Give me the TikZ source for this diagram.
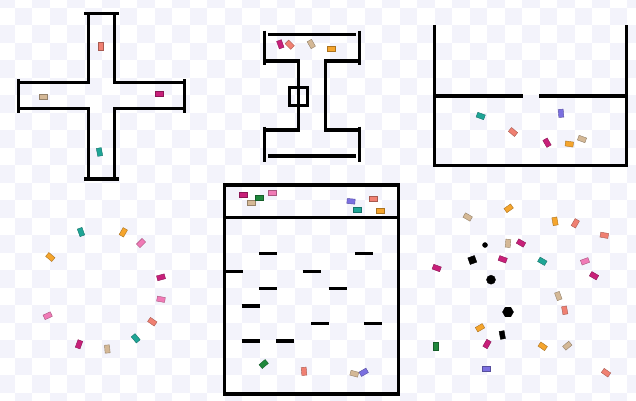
\documentclass[tikz,border=0pt]{standalone}
\usepackage{xcolor}
\usepackage{tikz}
\usetikzlibrary{backgrounds}
\usetikzlibrary{shapes,shapes.geometric}
\pgfdeclarelayer{edgelayer}
\pgfdeclarelayer{nodelayer}
\pgfsetlayers{background,edgelayer,nodelayer,main}
\definecolor{mgc}{RGB}{200,32,122}
\definecolor{snc}{RGB}{240,128,114}
\definecolor{tnc}{RGB}{212,184,150}
\definecolor{tlc}{RGB}{30,165,150}
\definecolor{ogc}{RGB}{245,165,45}
\definecolor{pkc}{RGB}{240,122,182}
\definecolor{puc}{RGB}{123,111,224}
\definecolor{dgc}{RGB}{30,135,60}
\tikzstyle{none}=[inner sep=0mm]
\tikzstyle{wall}=[line width=3.2pt,draw=black]
\tikzstyle{chk}=[fill={rgb,255:red,243;green,243;blue,251}]
\tikzstyle{car}=[shape=rectangle,inner sep=0pt,minimum width=8pt,minimum height=5pt,line width=0.4pt]
\tikzstyle{mg}=[car,fill=mgc,draw=mgc!70!black]
\tikzstyle{sn}=[car,fill=snc,draw=snc!70!black]
\tikzstyle{tn}=[car,fill=tnc,draw=tnc!70!black]
\tikzstyle{tl}=[car,fill=tlc,draw=tlc!70!black]
\tikzstyle{og}=[car,fill=ogc,draw=ogc!70!black]
\tikzstyle{pk}=[car,fill=pkc,draw=pkc!70!black]
\tikzstyle{pu}=[car,fill=puc,draw=puc!70!black]
\tikzstyle{dg}=[car,fill=dgc,draw=dgc!70!black]
\tikzstyle{blk}=[inner sep=0pt,fill=black,draw=black]

\begin{document}
\begin{tikzpicture}[x=1pt,y=-1pt]
	\useasboundingbox (0,0) rectangle (636,400);
	\begin{pgfonlayer}{background}
		\fill[white] (0,0) rectangle (636,400);
		\foreach \i in {0,...,18}
			\foreach \j in {0,...,11}
			{
				\fill[style=chk] (-3+35*\i,-10+35*\j) rectangle ++(17.5,17.5);
				\fill[style=chk] (14.5+35*\i,7.5+35*\j) rectangle ++(17.5,17.5);
			}
	\end{pgfonlayer}
	\begin{pgfonlayer}{edgelayer}
		% cross
		\draw[wall] (84,13.3) -- (119,13.3);
		\draw[wall] (88.3,13.3) -- (88.3,82.3) -- (18.3,82.3);
		\draw[wall] (114.3,13.3) -- (114.3,82.3) -- (184.3,82.3);
		\draw[wall] (18.3,79) -- (18.3,113);
		\draw[wall] (18.3,108.3) -- (88.3,108.3) -- (88.3,179);
		\draw[wall] (184.3,108.3) -- (114.3,108.3) -- (114.3,179);
		\draw[wall] (184.3,79) -- (184.3,113);
		\draw[wall] (84,179) -- (119,179);
		% beam
		\draw[wall] (264.3,30.7) -- (264.3,65);
		\draw[wall] (359.7,30.7) -- (359.7,65);
		\draw[wall] (268,34.3) -- (356,34.3);
		\draw[wall] (264.3,61) -- (298.7,61) -- (298.7,130) -- (264.3,130);
		\draw[wall] (359.7,61) -- (325.3,61) -- (325.3,130) -- (359.7,130);
		\draw[wall] (264.3,126.7) -- (264.3,161.7);
		\draw[wall] (359.7,126.7) -- (359.7,161.7);
		\draw[wall] (268,156) -- (356,156);
		\draw[wall,line width=2.8pt] (289.7,87.3) rectangle (307.7,105.3);
		% cup
		\draw[wall] (434.7,25) -- (434.7,165.7) -- (626.7,165.7) -- (626.7,25);
		\draw[wall] (434.7,96) -- (522.7,96);
		\draw[wall] (539.3,96) -- (626.7,96);
		% box
		\draw[wall,line width=3.5pt] (224.7,185) rectangle (398.7,394);
		\draw[wall] (224.7,217.7) -- (398.7,217.7);
		\foreach \x/\y in {259.3/253.7,355.3/253.7,224.7/271.3,302.7/271.3,
			259.3/288.7,328.7/288.7,241.7/306,311.3/323.7,364/323.7,
			241.7/341,276.3/341}
			\draw[wall] (\x,\y) -- ++(18,0);
	\end{pgfonlayer}
	\begin{pgfonlayer}{nodelayer}
		% cross
		\node [style=sn,rotate=90] (sn1) at (101,46) {};
		\node [style=tn] (tn1) at (43.5,97) {};
		\node [style=mg] (mg1) at (159.5,94) {};
		\node [style=tl,rotate=100] (tl1) at (99.5,152) {};
		% beam
		\node [style=mg,rotate=110] (mg2) at (280.3,44.3) {};
		\node [style=sn,rotate=-45] (sn2) at (289.7,44.7) {};
		\node [style=tn,rotate=120] (tn2) at (311.3,44) {};
		\node [style=og] (og1) at (331,48.3) {};
		% cup
		\node [style=tl,rotate=-20] (tl2) at (480.7,116) {};
		\node [style=sn,rotate=-40] (sn3) at (513,132) {};
		\node [style=pu,rotate=95] (pu1) at (561,113.3) {};
		\node [style=mg,rotate=-60] (mg3) at (547,142.7) {};
		\node [style=og,rotate=-8] (og2) at (569.3,144) {};
		\node [style=tn,rotate=-20] (tn3) at (582,139) {};
		% ring
		\node [style=tl,rotate=110] (tl3) at (81,232) {};
		\node [style=og,rotate=60] (og3) at (123.3,232.3) {};
		\node [style=pk,rotate=45] (pk1) at (141,243) {};
		\node [style=og,rotate=-40] (og4) at (50.3,257) {};
		\node [style=mg,rotate=15] (mg4) at (161,277.3) {};
		\node [style=pk,rotate=-10] (pk2) at (161,299.3) {};
		\node [style=pk,rotate=25] (pk3) at (47.7,315.7) {};
		\node [style=sn,rotate=-35] (sn4) at (152.3,321.7) {};
		\node [style=tl,rotate=-50] (tl4) at (135.7,338.3) {};
		\node [style=mg,rotate=70] (mg5) at (79,344.3) {};
		\node [style=tn,rotate=95] (tn4) at (107.3,349) {};
		% box
		\node [style=mg] (mg6) at (243,194.3) {};
		\node [style=tn] (tn5) at (251,202.3) {};
		\node [style=dg] (dg1) at (258.7,197.7) {};
		\node [style=pk] (pk4) at (271.7,193) {};
		\node [style=pu,rotate=-5] (pu2) at (351,201.3) {};
		\node [style=sn] (sn5) at (373,198.7) {};
		\node [style=tl] (tl5) at (357.3,209.3) {};
		\node [style=og] (og5) at (380.3,210.7) {};
		\node [style=dg,rotate=40] (dg2) at (263.7,364) {};
		\node [style=sn,rotate=95] (sn6) at (304,371.3) {};
		\node [style=tn,rotate=-15] (tn6) at (354.3,373.7) {};
		\node [style=pu,rotate=30] (pu3) at (363.7,372.3) {};
		% field
		\node [style=tn,rotate=-30] (tn7) at (467.7,217) {};
		\node [style=og,rotate=35] (og6) at (508.7,208.3) {};
		\node [style=og,rotate=100] (og7) at (555,221.3) {};
		\node [style=sn,rotate=60] (sn7) at (575.3,223.3) {};
		\node [style=sn,rotate=-10] (sn8) at (604.3,235.3) {};
		\node [style=tn,rotate=85] (tn8) at (508,243.3) {};
		\node [style=mg,rotate=-30] (mg7) at (521,243) {};
		\node [style=mg,rotate=-20] (mg8) at (502.7,259.3) {};
		\node [style=tl,rotate=-30] (tl6) at (542.3,261.3) {};
		\node [style=pk,rotate=20] (pk5) at (585,261.3) {};
		\node [style=mg,rotate=-20] (mg9) at (436.7,268) {};
		\node [style=mg,rotate=-30] (mg10) at (594,275.7) {};
		\node [style=tn,rotate=110] (tn9) at (558.3,296) {};
		\node [style=sn,rotate=100] (sn9) at (564.7,310.3) {};
		\node [style=og,rotate=30] (og8) at (480,327.7) {};
		\node [style=dg,rotate=90] (dg3) at (436,345.7) {};
		\node [style=mg,rotate=60] (mg11) at (487,344) {};
		\node [style=og,rotate=-35] (og9) at (542.7,346.3) {};
		\node [style=tn,rotate=40] (tn10) at (567.3,345.7) {};
		\node [style=pu] (pu4) at (485.7,369) {};
		\node [style=sn,rotate=-35] (sn10) at (606,372.7) {};
		\node [style=blk,circle,minimum size=5pt] (ob1) at (485,245) {};
		\node [style=blk,rectangle,minimum size=7pt,rotate=20] (ob2) at (472.3,260) {};
		\node [style=blk,circle,minimum size=9pt] (ob3) at (491,279.7) {};
		\node [style=blk,regular polygon,regular polygon sides=6,minimum size=11pt] (ob4) at (508,312) {};
		\node [style=blk,rectangle,minimum width=8pt,minimum height=5pt,rotate=100] (ob5) at (502.3,335) {};
	\end{pgfonlayer}
\end{tikzpicture}
\end{document}
